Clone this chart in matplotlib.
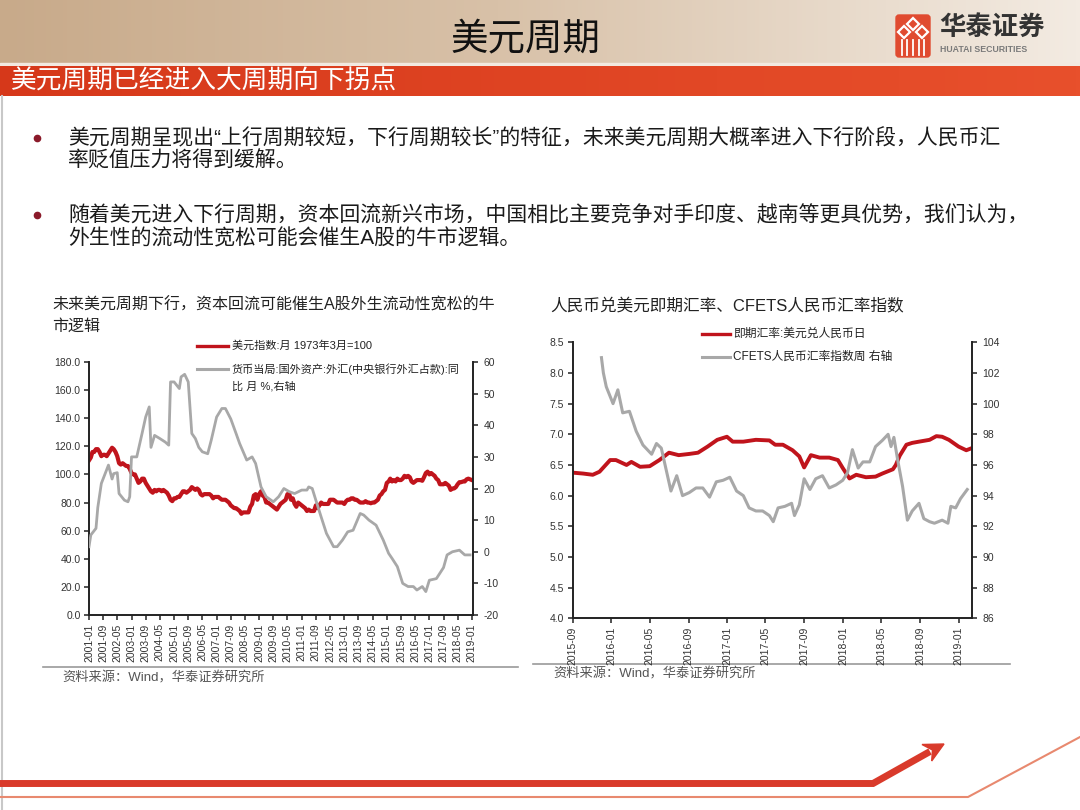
import numpy as np
import pandas as pd
import matplotlib
matplotlib.use('Agg')
import matplotlib.pyplot as plt
from matplotlib.patches import Rectangle, FancyBboxPatch, Polygon
from matplotlib.ticker import FormatStrFormatter

plt.rcParams['font.family'] = ['Liberation Sans', 'Noto Sans CJK SC']
plt.rcParams['axes.unicode_minus'] = False

# ---------------- data: left chart ----------------
# US dollar index (1973-03 = 100), monthly from 2001-01
usd_start = '2001-01-01'
usd_index = [
    110, 112, 116, 116, 118, 118, 116, 113, 114, 114, 113, 115,   # 2001
    117, 119, 118, 116, 113, 108, 107, 108, 107, 106, 106, 104,   # 2002
    101, 100, 100, 97, 94, 95, 97, 97, 94, 92, 90, 88,            # 2003
    87, 89, 88, 89, 89, 88, 89, 88, 87, 85, 82, 81,               # 2004
    83, 83, 84, 84, 86, 88, 88, 87, 88, 89, 91, 90,               # 2005
    89, 90, 89, 86, 85, 86, 86, 86, 86, 85, 83, 84,               # 2006
    84, 84, 83, 82, 82, 82, 81, 80, 78, 77, 76, 76,               # 2007
    75, 74, 72, 73, 73, 73, 73, 77, 79, 85, 86, 82,               # 2008
    86, 88, 85, 84, 80, 80, 79, 78, 77, 76, 75, 77,               # 2009
    79, 80, 81, 82, 86, 86, 82, 83, 79, 77, 80, 79,               # 2010
    78, 77, 76, 74, 75, 74, 74, 74, 78, 76, 78, 80,               # 2011
    79, 79, 79, 79, 82, 82, 82, 81, 80, 80, 80, 80,               # 2012
    79, 81, 82, 82, 83, 83, 82, 82, 81, 80, 80, 80,               # 2013
    81, 80, 80, 79.5, 80, 80, 81, 82, 85, 86, 88, 89,             # 2014
    94, 95, 97, 95, 96, 95, 97, 96, 96, 97, 99, 98,               # 2015
    99, 98, 95, 94, 95, 96, 96, 96, 95.5, 98, 101, 102,           # 2016
    100, 101, 100, 99, 97, 96, 93, 93, 93, 94, 93, 92,            # 2017
    89, 90, 90, 91, 93, 94.5, 94.5, 95, 95, 96.5, 97, 96.5,       # 2018
    96,                                                           # 2019
]

# FX holdings of the central bank, y/y %, (months after 2001-01, value)
fx_month = [0, 1, 4, 5, 7, 11, 13, 14, 16, 17, 20, 22, 23, 24, 27, 30, 32, 34,
            35, 37, 40, 43, 45, 46, 48, 51, 52, 54, 56, 58, 60, 62, 64, 67, 69,
            72, 75, 77, 80, 83, 85, 89, 92, 94, 97, 100, 104, 107, 110, 113,
            116, 120, 123, 124, 126, 128, 131, 134, 138, 140, 143, 146, 149,
            153, 155, 158, 162, 166, 169, 171, 174, 177, 180, 183, 185, 188,
            190, 192, 196, 200, 202, 205, 209, 212, 215]
fx_yoy = [1.6, 5.3, 7.4, 14, 21.6, 27.4, 23, 24.7, 25, 18.4, 16.3, 15.8, 17.4,
          30, 30, 37.4, 42.6, 45.8, 33, 36.8, 35.8, 34.7, 33.7, 53.7, 53.7,
          51.6, 55.3, 56.1, 53.7, 37.4, 35.8, 33, 31.6, 31, 35.3, 42.6, 45.3,
          45.3, 42, 37.4, 34.2, 29, 30, 27.9, 20.5, 17.4, 15.8, 17.4, 20, 19,
          18.4, 19.5, 19.5, 20.5, 20, 16.3, 11, 5.8, 1.6, 1.6, 3.7, 6.3, 6.8,
          12.1, 11.6, 10, 8.4, 3.7, -0.5, -2.1, -4.7, -10, -11, -11, -12.1,
          -11, -12.6, -9, -8.5, -5, -1, 0, 0.5, -1, -1]

# ---------------- data: right chart ----------------
# months after 2015-09-01
cny_month = [0, 1.1, 2.1, 2.8, 3.9, 4.5, 5.6, 6.1, 7, 8, 9, 10, 11, 12.1, 13,
             14, 15, 16, 16.6, 17.7, 19, 20.4, 21, 21.8, 22.8, 23.5, 24, 24.7,
             25.6, 26.6, 27.5, 28, 28.7, 29.4, 30.4, 31.4, 32.1, 33.2, 33.5,
             33.9, 34.6, 35.2, 35.9, 37, 37.7, 38.3, 39, 40, 40.8, 41.3]
usdcny = [6.375, 6.36, 6.34, 6.39, 6.58, 6.58, 6.5, 6.55, 6.47, 6.48, 6.58,
          6.7, 6.66, 6.68, 6.7, 6.8, 6.91, 6.96, 6.88, 6.88, 6.91, 6.9, 6.83,
          6.83, 6.74, 6.64, 6.46, 6.66, 6.62, 6.62, 6.58, 6.45, 6.28, 6.34,
          6.3, 6.31, 6.36, 6.43, 6.5, 6.65, 6.83, 6.86, 6.88, 6.91, 6.97,
          6.96, 6.91, 6.8, 6.74, 6.77]

cfets_month = [3, 3.2, 3.5, 4.2, 4.7, 5.2, 5.9, 6.6, 7.3, 8.2, 8.7, 9.2, 9.7,
               10.2, 10.8, 11.4, 12.1, 12.8, 13.5, 14.2, 14.9, 15.6, 16.3, 17,
               17.7, 18.3, 19, 19.7, 20.4, 20.8, 21.3, 22, 22.7, 23, 23.5, 24,
               24.6, 25.2, 25.9, 26.6, 27.3, 28, 28.5, 29, 29.6, 30.1, 30.8,
               31.4, 32.1, 32.7, 33, 33.3, 33.7, 34.2, 34.7, 35.2, 35.9, 36.4,
               37, 37.5, 38.3, 38.9, 39.2, 39.7, 40.2, 40.9]
cfets = [103.0, 102.0, 101.1, 100.0, 100.9, 99.4, 99.5, 98.2, 97.3, 96.7, 97.4,
         97.1, 95.7, 94.3, 95.3, 94.0, 94.2, 94.5, 94.5, 93.9, 94.9, 95.0,
         95.2, 94.3, 94.0, 93.2, 93.0, 93.0, 92.7, 92.3, 93.2, 93.3, 93.5,
         92.7, 93.4, 95.1, 94.4, 95.1, 95.3, 94.5, 94.7, 95.0, 95.5, 97.0,
         95.8, 96.2, 96.2, 97.2, 97.6, 98.0, 97.2, 97.8, 96.3, 94.6, 92.4,
         93.0, 93.5, 92.5, 92.3, 92.2, 92.4, 92.2, 93.3, 93.2, 93.8, 94.4]

# ---------------- texts ----------------
page_title = '美元周期'
banner = '美元周期已经进入大周期向下拐点'
bullets = [
    ['美元周期呈现出“上行周期较短，下行周期较长”的特征，未来美元周期大概率进入下行阶段，人民币汇',
     '率贬值压力将得到缓解。'],
    ['随着美元进入下行周期，资本回流新兴市场，中国相比主要竞争对手印度、越南等更具优势，我们认为，',
     '外生性的流动性宽松可能会催生A股的牛市逻辑。'],
]
left_title = ['未来美元周期下行，资本回流可能催生A股外生流动性宽松的牛', '市逻辑']
left_legend = ['美元指数:月 1973年3月=100', '货币当局:国外资产:外汇(中央银行外汇占款):同', '比 月 %,右轴']
right_title = '人民币兑美元即期汇率、CFETS人民币汇率指数'
right_legend = ['即期汇率:美元兑人民币日', 'CFETS人民币汇率指数周 右轴']
source = '资料来源：Wind，华泰证券研究所'

RED = '#c0141c'
GRAY = '#a8a8a8'
INK = '#222222'

W, H = 1080, 810
fig = plt.figure(figsize=(10.8, 8.1), dpi=100)
bg = fig.add_axes([0, 0, 1, 1])
bg.set_xlim(0, W)
bg.set_ylim(H, 0)
bg.axis('off')

# header gradient
xs = np.linspace(0, 1, 256)
grad = np.zeros((2, 256, 3))
for i, (a, b, c) in enumerate([(200, 216, 243), (170, 193, 235), (138, 168, 226)]):
    grad[:, :, i] = np.interp(xs, [0, 0.46, 1], [a, b, c]) / 255
bg.imshow(grad, extent=(0, W, 63, 0), aspect='auto', zorder=0)
bg.add_patch(Rectangle((0, 63), W, 3, color='#f2e9e0', zorder=1))
bred = np.zeros((2, 256, 3))
for i, (a, c) in enumerate([(214, 232), (56, 80), (26, 44)]):
    bred[:, :, i] = np.interp(xs, [0, 1], [a, c]) / 255
bg.imshow(bred, extent=(0, W, 96, 66), aspect='auto', zorder=1)
bg.set_xlim(0, W)
bg.set_ylim(H, 0)

bg.text(525, 39, page_title, fontsize=27, ha='center', va='center', color='#111111')
bg.text(11, 82, banner, fontsize=18.5, ha='left', va='center', color='white')

# logo
bg.add_patch(FancyBboxPatch((896, 15), 34, 42, boxstyle='round,pad=0,rounding_size=3',
                            color='#e04b30', zorder=2))
for cx, cy in [(913, 24), (904, 32), (922, 32)]:
    bg.add_patch(Polygon([(cx, cy - 6), (cx + 6, cy), (cx, cy + 6), (cx - 6, cy)],
                         closed=True, fill=False, ec='white', lw=1.6, zorder=3))
for vx in [902, 907, 913, 919, 924]:
    bg.plot([vx, vx], [40, 55], color='white', lw=1.3, zorder=3)
bg.text(939, 27, '华泰证券', fontsize=19, fontweight='bold', color='#333333', va='center')
bg.text(940, 50, 'HUATAI SECURITIES', fontsize=6.3, fontweight='bold', color='#7a7a7a', va='center')

# left page border
bg.plot([2, 2], [96, H], color='#c8c8c8', lw=1.5)

# bullets
for (l1, l2), y0 in zip(bullets, [138, 215]):
    bg.plot(37, y0, 'o', ms=4.5, color='#8b1a2a')
    bg.text(68, y0, l1, fontsize=15, color='#1a1a1a', va='center')
    bg.text(68, y0 + 23, l2, fontsize=15, color='#1a1a1a', va='center')

# ---------------- left chart ----------------
bg.text(52, 305, left_title[0], fontsize=11.5, color=INK, va='center')
bg.text(52, 326, left_title[1], fontsize=11.5, color=INK, va='center')

axL = fig.add_axes([89 / W, 1 - 615 / H, (473 - 89) / W, (615 - 362) / H])
usd_dates = pd.date_range(usd_start, periods=len(usd_index), freq='MS')
axL.plot(usd_dates, usd_index, color=RED, lw=3.0, solid_joinstyle='round')
axL2 = axL.twinx()
fx_dates = [pd.Timestamp('2001-01-01') + pd.DateOffset(months=m) for m in fx_month]
axL2.plot(fx_dates, fx_yoy, color=GRAY, lw=2.0)

axL.set_ylim(0, 180)
axL.set_yticks(np.arange(0, 181, 20))
axL.yaxis.set_major_formatter(FormatStrFormatter('%.1f'))
axL2.set_ylim(-20, 60)
axL2.set_yticks(np.arange(-20, 61, 10))
axL.set_xlim(pd.Timestamp('2001-01-01'), pd.Timestamp('2019-01-20'))
lt = pd.date_range('2001-01-01', '2019-01-01', freq='8MS')
axL.set_xticks(lt)
axL.set_xticklabels([d.strftime('%Y-%m') for d in lt], rotation=90)

# ---------------- right chart ----------------
bg.text(550, 306, right_title, fontsize=12, color=INK, va='center')

axR = fig.add_axes([572.5 / W, 1 - 618.3 / H, (972 - 572.5) / W, (618.3 - 342.3) / H])
t0 = pd.Timestamp('2015-09-01')
cny_dates = t0 + pd.to_timedelta(np.array(cny_month) * 30.44, unit='D')
axR.plot(cny_dates, usdcny, color=RED, lw=2.8)
axR2 = axR.twinx()
cf_dates = t0 + pd.to_timedelta(np.array(cfets_month) * 30.44, unit='D')
axR2.plot(cf_dates, cfets, color=GRAY, lw=2.2)

axR.set_ylim(4.0, 8.5)
axR.set_yticks(np.arange(4.0, 8.51, 0.5))
axR.yaxis.set_major_formatter(FormatStrFormatter('%.1f'))
axR2.set_ylim(86, 104)
axR2.set_yticks(np.arange(86, 105, 2))
axR.set_xlim(t0, pd.Timestamp('2019-02-12'))
rt = pd.date_range('2015-09-01', '2019-01-01', freq='4MS')
axR.set_xticks(rt)
axR.set_xticklabels([d.strftime('%Y-%m') for d in rt], rotation=90)

for a, b in [(axL, axL2), (axR, axR2)]:
    for ax in (a, b):
        ax.set_facecolor('none')
        ax.spines['top'].set_visible(False)
        for s in ('left', 'right', 'bottom'):
            ax.spines[s].set_color(INK)
            ax.spines[s].set_linewidth(1.4)
        ax.tick_params(direction='out', length=3.5, width=1.1, colors=INK,
                       labelsize=7.5, labelcolor='#333333', pad=2.5)
    a.spines['right'].set_visible(False)
    b.spines['left'].set_visible(False)
    b.spines['bottom'].set_visible(False)
    b.tick_params(axis='y', pad=4)

# legends
bg.plot([197, 228], [346, 346], color=RED, lw=2.4)
bg.text(232, 346, left_legend[0], fontsize=8, color=INK, va='center')
bg.plot([197, 228], [369, 369], color=GRAY, lw=2.2)
bg.text(232, 369, left_legend[1], fontsize=8, color=INK, va='center')
bg.text(232, 386, left_legend[2], fontsize=8, color=INK, va='center')

bg.plot([702, 730], [334, 334], color=RED, lw=2.4)
bg.text(733, 334, right_legend[0], fontsize=8.5, color=INK, va='center')
bg.plot([702, 730], [357, 357], color=GRAY, lw=2.2)
bg.text(733, 357, right_legend[1], fontsize=8.5, color=INK, va='center')

# source lines
bg.plot([43, 518], [667, 667], color='#9a9a9a', lw=1.2)
bg.text(62, 678, source, fontsize=9.5, color='#555555', va='center')
bg.plot([533, 1010], [664, 664], color='#9a9a9a', lw=1.2)
bg.text(553, 674, source, fontsize=9.5, color='#555555', va='center')

# bottom decoration
bg.plot([0, 873, 930], [783.5, 783.5, 751.5], color='#d93a2b', lw=5, solid_capstyle='butt',
        solid_joinstyle='miter')
bg.add_patch(Polygon([(944, 744), (931.7, 761), (932.5, 750), (922, 744.5)], closed=True,
                     color='#d93a2b'))
bg.plot([0, 968, 1080], [797, 797, 737], color='#e8896f', lw=1.5)

fig.savefig('out.png', dpi=100)
